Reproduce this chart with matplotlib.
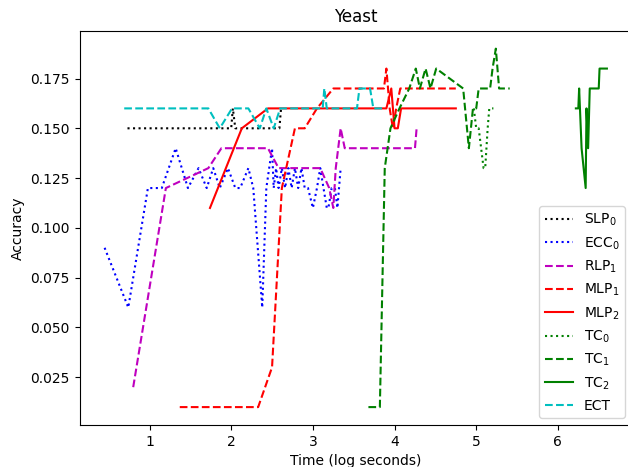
import matplotlib
matplotlib.use("Agg")
import matplotlib.pyplot as plt

# Accuracy vs. training time (log seconds) on the Yeast dataset
slp0_x = [0.73, 2.00, 2.02, 2.05, 2.59, 2.61]
slp0_y = [0.15, 0.15, 0.16, 0.15, 0.15, 0.16]

ecc0_x = [0.45, 0.74, 0.98, 1.15, 1.32, 1.47, 1.60, 1.70, 1.78, 1.86, 1.96, 2.05,
          2.11, 2.21, 2.27, 2.38, 2.43, 2.50, 2.52, 2.55, 2.58, 2.62, 2.66, 2.70,
          2.74, 2.78, 2.82, 2.86, 2.90, 2.94, 3.00, 3.05, 3.09, 3.13, 3.17, 3.19,
          3.23, 3.27, 3.30, 3.34]
ecc0_y = [0.09, 0.06, 0.12, 0.12, 0.14, 0.12, 0.13, 0.12, 0.13, 0.12, 0.13, 0.12,
          0.12, 0.13, 0.12, 0.06, 0.12, 0.14, 0.12, 0.13, 0.12, 0.13, 0.12, 0.13,
          0.12, 0.13, 0.12, 0.13, 0.12, 0.12, 0.11, 0.12, 0.13, 0.12, 0.11, 0.11,
          0.12, 0.12, 0.11, 0.13]

rlp1_x = [0.80, 1.20, 1.72, 1.88, 2.45, 2.58, 3.09, 3.20, 3.25, 3.28, 3.34, 3.39,
          4.25, 4.27]
rlp1_y = [0.02, 0.12, 0.13, 0.14, 0.14, 0.13, 0.13, 0.12, 0.11, 0.13, 0.15, 0.14,
          0.14, 0.15]

mlp1_x = [1.37, 2.33, 2.50, 2.62, 2.78, 2.90, 3.05, 3.25, 3.87, 3.90, 3.94, 3.98,
          4.02, 4.07, 4.75]
mlp1_y = [0.01, 0.01, 0.03, 0.12, 0.15, 0.15, 0.16, 0.17, 0.17, 0.18, 0.16, 0.15,
          0.16, 0.17, 0.17]

mlp2_x = [1.74, 2.13, 2.45, 3.90, 3.96, 4.00, 4.04, 4.08, 4.75]
mlp2_y = [0.11, 0.15, 0.16, 0.16, 0.17, 0.15, 0.15, 0.16, 0.16]

tc0_x = [4.97, 5.00, 5.03, 5.06, 5.09, 5.11, 5.14, 5.16, 5.21]
tc0_y = [0.16, 0.15, 0.15, 0.14, 0.13, 0.13, 0.15, 0.16, 0.16]

tc1_x = [3.68, 3.76, 3.82, 3.88, 3.95, 4.06, 4.18, 4.26, 4.31, 4.38, 4.44, 4.51,
         4.84, 4.91, 4.96, 5.00, 5.03, 5.17, 5.20, 5.24, 5.28, 5.41]
tc1_y = [0.01, 0.01, 0.01, 0.13, 0.15, 0.16, 0.17, 0.18, 0.17, 0.18, 0.17, 0.18,
         0.17, 0.14, 0.16, 0.16, 0.17, 0.17, 0.18, 0.19, 0.17, 0.17]

tc2_x = [6.22, 6.25, 6.26, 6.29, 6.34, 6.35, 6.37, 6.39, 6.50, 6.51, 6.60]
tc2_y = [0.16, 0.16, 0.17, 0.14, 0.12, 0.16, 0.14, 0.17, 0.17, 0.18, 0.18]

ect_x = [0.69, 1.72, 1.86, 2.01, 2.21, 2.35, 2.43, 2.52, 2.60, 3.12, 3.14, 3.17,
         3.54, 3.57, 3.70, 3.74, 3.88]
ect_y = [0.16, 0.16, 0.15, 0.16, 0.16, 0.15, 0.16, 0.15, 0.16, 0.16, 0.17, 0.16,
         0.16, 0.17, 0.17, 0.16, 0.16]

series = [
    (slp0_x, slp0_y, "k", ":", r"SLP$_0$"),
    (ecc0_x, ecc0_y, "b", ":", r"ECC$_0$"),
    (rlp1_x, rlp1_y, "m", "--", r"RLP$_1$"),
    (mlp1_x, mlp1_y, "r", "--", r"MLP$_1$"),
    (mlp2_x, mlp2_y, "r", "-", r"MLP$_2$"),
    (tc0_x, tc0_y, "g", ":", r"TC$_0$"),
    (tc1_x, tc1_y, "g", "--", r"TC$_1$"),
    (tc2_x, tc2_y, "g", "-", r"TC$_2$"),
    (ect_x, ect_y, "c", "--", "ECT"),
]

fig = plt.figure(figsize=(6.28, 4.67), dpi=100)
ax = fig.add_axes([0.1266, 0.0899, 0.8798, 0.8443])

for xs, ys, color, style, label in series:
    ax.plot(xs, ys, color=color, linestyle=style, label=label)

ax.set_title("Yeast")
ax.set_xlabel("Time (log seconds)")
ax.set_ylabel("Accuracy")
ax.legend(loc="lower right")

fig.savefig("out.png", dpi=100)
